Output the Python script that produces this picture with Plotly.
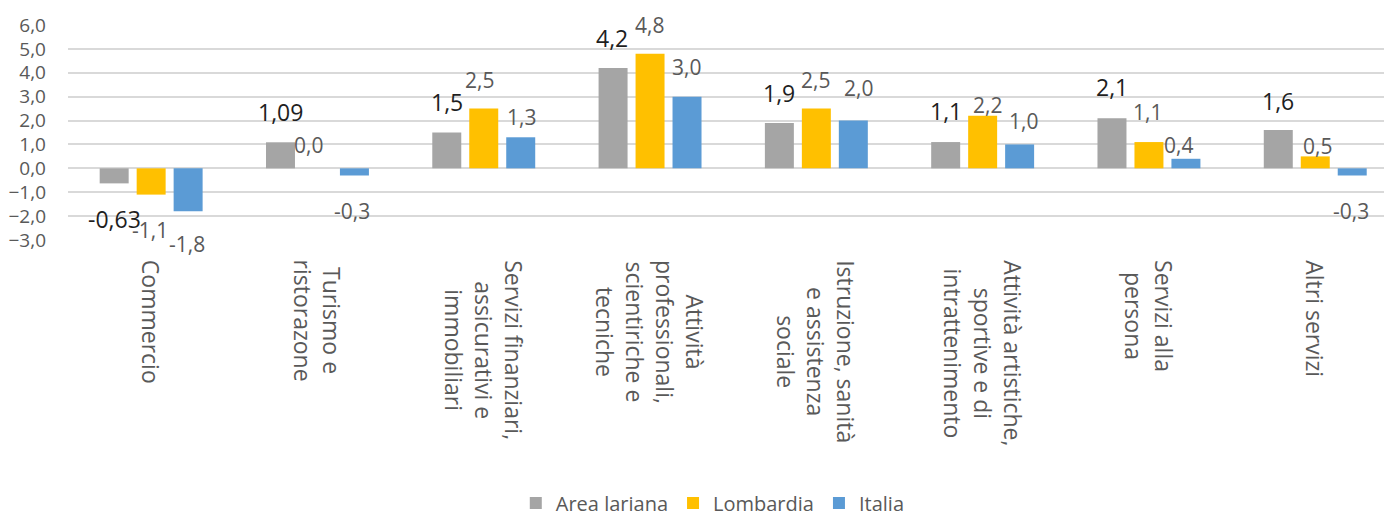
import plotly.graph_objects as go

# ---------------- data ----------------
categories = [
    "Commercio",
    "Turismo e<br>ristorazone",
    "Servizi finanziari,<br>assicurativi e<br>immobiliari",
    "Attività<br>professionali,<br>scientiriche e<br>tecniche",
    "Istruzione, sanità<br>e assistenza<br>sociale",
    "Attività artistiche,<br>sportive e di<br>intrattenimento",
    "Servizi alla<br>persona",
    "Altri servizi",
]
series_names = ["Area lariana", "Lombardia", "Italia"]
area_lariana = [-0.63, 1.09, 1.5, 4.2, 1.9, 1.1, 2.1, 1.6]
lombardia = [-1.1, 0.0, 2.5, 4.8, 2.5, 2.2, 1.1, 0.5]
italia = [-1.8, -0.3, 1.3, 3.0, 2.0, 1.0, 0.4, -0.3]
y_ticks = [-3, -2, -1, 0, 1, 2, 3, 4, 5, 6]

# ---------------- style ----------------
PAGE_OFF = 8  # default body margin of the html page
W, H = 1392 - PAGE_OFF, 518 - PAGE_OFF
ML, MR, MT, MB = 68 - PAGE_OFF, 0, 25 - PAGE_OFF, 278
CAT_PX = 166.3
BARGAP = 0.333
BARGROUPGAP = 0.216
colors = ["#a5a5a5", "#ffc000", "#5b9bd5"]
FONT = "Open Sans, Liberation Sans, sans-serif"
GRAY_TXT = "#595959"

# label offsets (px) relative to the bar centre / bar end
lab_dx = [
    [0, 0, 0, -1, 0, 0, 0, 0],
    [-1, -9, -4, -1, -1, 5, -1, 2],
    [-1, -2, 1, -1, 5, 4, -7, -1],
]
lab_dy = [
    [-36, 30, 31, 30, 30, 31, 31, 29],
    [-35, 23, 29, 29, 29, 11, 30, 10],
    [-33, -35, 20, 30, 33, 23, 14, -35],
]
lab_font = [
    dict(family=FONT, size=23, color="#1e1e1e"),
    dict(family=FONT, size=21, color=GRAY_TXT),
    dict(family=FONT, size=21, color=GRAY_TXT),
]


def fmt(v, i):
    if i == 0:
        return str(v).replace(".", ",")
    return f"{v:.1f}".replace(".", ",")


all_series = [area_lariana, lombardia, italia]

fig = go.Figure()
for i, (name, vals) in enumerate(zip(series_names, all_series)):
    fig.add_trace(go.Bar(
        x=categories, y=vals, name=name,
        marker=dict(color=colors[i], line=dict(width=0)),
    ))

plot_w = W - ML - MR
plot_h = H - MT - MB
x_max = -0.5 + plot_w / CAT_PX
slot_px = (1 - BARGAP) / 3 * CAT_PX

annotations = []
for i, vals in enumerate(all_series):
    for j, v in enumerate(vals):
        annotations.append(dict(
            x=categories[j], y=v, xref="x", yref="y",
            text=fmt(v, i), showarrow=False,
            xshift=(i - 1) * slot_px + lab_dx[i][j],
            yshift=lab_dy[i][j],
            xanchor="center", yanchor="middle",
            font=lab_font[i],
        ))

for c in categories:
    annotations.append(dict(
        x=c, y=0, xref="x", yref="paper",
        text=c, showarrow=False, textangle=90,
        xanchor="center", yanchor="top", yshift=-18,
        align="center",
        font=dict(family=FONT, size=23, color=GRAY_TXT),
    ))

fig.update_layout(
    width=W, height=H,
    margin=dict(l=ML, r=MR, t=MT, b=MB, pad=0, autoexpand=False),
    paper_bgcolor="white", plot_bgcolor="white",
    barmode="group", bargap=BARGAP, bargroupgap=BARGROUPGAP,
    separators=",.",
    font=dict(family=FONT, color=GRAY_TXT),
    xaxis=dict(
        range=[-0.5, x_max], showticklabels=False, showgrid=False,
        zeroline=False, showline=False, ticks="", automargin=False,
    ),
    yaxis=dict(
        range=[-3, 6], tickvals=y_ticks, tickformat=".1f",
        showgrid=True, gridcolor="#d9d9d9", gridwidth=1.6,
        zeroline=True, zerolinecolor="#d9d9d9", zerolinewidth=1.6,
        showline=False, ticks="", ticklabelstandoff=21, automargin=False,
        tickfont=dict(family=FONT, size=19, color=GRAY_TXT),
    ),
    legend=dict(
        orientation="h", x=0.487, xanchor="center",
        y=-(503 - 240) / plot_h, yanchor="middle",
        font=dict(family=FONT, size=20, color=GRAY_TXT),
        itemwidth=30, traceorder="normal",
    ),
    annotations=annotations,
    showlegend=True,
)

fig.write_html("out.html")
